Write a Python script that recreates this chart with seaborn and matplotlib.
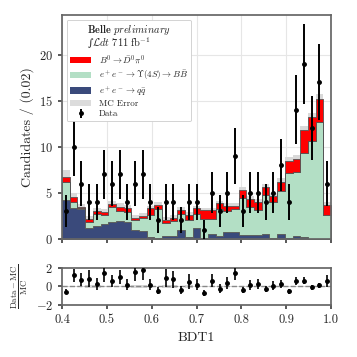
import numpy as np
import pandas as pd
import matplotlib
matplotlib.use("Agg")
import matplotlib.pyplot as plt
import seaborn as sns
from matplotlib.patches import Patch

# BDT1 binning: 35 bins between 0.4 and 1.0
x_lo, x_hi, n_bins = 0.4, 1.0, 35

data = [3, 10, 6, 4, 4, 7, 6, 7, 4, 6, 7, 4, 2, 4, 4, 2, 4, 4, 1, 5,
        3, 5, 9, 3, 5, 5, 4, 5, 8, 4, 14, 19, 12, 17, 6]
sig = [0.55, 0.55, 0.1, 0.35, 0.4, 0.35, 0.3, 0.5, 0.35, 0.25, 0.25, 0.7,
       0.5, 0.3, 0.35, 0.45, 0.6, 0.6, 1.0, 0.95, 0.6, 0.55, 0.4, 0.9, 0.85,
       0.9, 0.8, 0.6, 1.05, 1.35, 1.35, 2.5, 2.6, 2.5, 1.1]
bb = [1.95, 0.6, 0.15, 0.65, 1.3, 0.95, 1.7, 1.05, 1.15, 1.05, 1.45, 2.45,
      3.1, 1.45, 1.6, 1.7, 1.8, 1.5, 2.0, 1.65, 2.95, 2.35, 2.5, 3.95, 3.0,
      2.7, 4.25, 3.95, 4.65, 7.1, 6.95, 9.1, 10.6, 12.7, 2.6]
qq = [4.25, 3.4, 3.2, 1.15, 1.35, 1.6, 1.8, 1.95, 1.8, 1.0, 0.8, 0.15, 0.1,
      0.3, 0.3, 1.0, 0.2, 1.2, 0.1, 0.5, 0.3, 0.7, 0.7, 0.45, 0.45, 0.45,
      0.55, 0.1, 0.5, 0.05, 0.35, 0.2, 0.0, 0.0, 0.0]
mc_err = [0.7, 0.4, 0.35, 0.3, 0.35, 0.3, 0.35, 0.35, 0.35, 0.3, 0.3, 0.3,
          0.35, 0.3, 0.3, 0.3, 0.3, 0.3, 0.3, 0.3, 0.3, 0.3, 0.3, 0.35, 0.3,
          0.3, 0.35, 0.3, 0.35, 0.4, 0.4, 0.45, 0.5, 0.5, 0.3]

labels = [r"$B^0 \to \bar{D}^0\pi^0$",
          r"$e^+e^- \to \Upsilon(4S) \to B\bar{B}$",
          r"$e^+e^- \to q\bar{q}$"]
colors = ["#ff0000", "#b3dfc5", "#3a4a7b"]

sns.set_theme(style="ticks")
plt.rcParams["font.family"] = ["cmr10", "DejaVu Serif"]
plt.rcParams["mathtext.fontset"] = "cm"
plt.rcParams["axes.formatter.use_mathtext"] = True
plt.rcParams["axes.unicode_minus"] = True

edges = np.linspace(x_lo, x_hi, n_bins + 1)
centers = 0.5 * (edges[:-1] + edges[1:])
width = edges[1] - edges[0]

df = pd.concat([
    pd.DataFrame({"bdt": centers, "w": vals, "comp": lab})
    for lab, vals in zip(labels, [sig, bb, qq])
], ignore_index=True)

data = np.array(data, dtype=float)
total = np.array(sig) + np.array(bb) + np.array(qq)
mc_err = np.array(mc_err)

fig = plt.figure(figsize=(3.57, 3.57), dpi=100)
ax = fig.add_axes([0.174, 0.331, 0.753, 0.627])
rax = fig.add_axes([0.174, 0.146, 0.753, 0.103])

# MC uncertainty drawn behind the stack, so only the upper half shows
ax.bar(centers, 2 * mc_err, bottom=total - mc_err, width=width,
       color="#d9d9d9", linewidth=0, zorder=1)
sns.histplot(data=df, x="bdt", weights="w", hue="comp", hue_order=labels,
             palette=colors, bins=n_bins, binrange=(x_lo, x_hi),
             multiple="stack", element="step",
             alpha=1, edgecolor="#555555", linewidth=0.6, legend=False,
             zorder=2, ax=ax)
dat = ax.errorbar(centers, data, yerr=np.sqrt(data), fmt="o", color="black",
                  ms=2.5, elinewidth=1.4, capsize=0, zorder=5)

ax.set_xlim(x_lo, x_hi)
ax.set_ylim(0, 24.3)
ax.set_yticks([0, 5, 10, 15, 20])
ax.set_xticks(np.arange(0.4, 1.01, 0.1))
ax.tick_params(labelbottom=False, labelsize=9, length=3, color="#444444")
ax.grid(True, color="#e6e6e6", linewidth=0.8, zorder=0)
ax.set_axisbelow(True)
ax.set_xlabel("")
ax.set_ylabel("Candidates / (0.02)", fontsize=10)
for s in ax.spines.values():
    s.set_color("#666666")

handles = [Patch(facecolor=c, edgecolor="none") for c in colors]
handles.append(Patch(facecolor="#dcdcdc", edgecolor="none"))
handles.append(dat)
leg = ax.legend(handles, labels + ["MC Error", "Data"], loc="upper left",
                fontsize=6.5, frameon=True, framealpha=1, edgecolor="#cccccc",
                title=r"$\mathbf{Belle}$ $\mathit{preliminary}$" + "\n"
                      + r"∫$\mathcal{L}dt\ 711\ \mathrm{fb}^{-1}$",
                title_fontsize=7.5, handlelength=2.4, handleheight=0.7,
                labelspacing=0.22, borderpad=0.35, fancybox=True,
                bbox_to_anchor=(0.0, 1.0))
leg.get_title().set_family(["DejaVu Serif"])
leg.get_title().set_linespacing(0.95)
leg.get_frame().set_linewidth(0.6)

ratio = (data - total) / total
ratio_err = np.sqrt(data) / total
band = mc_err / total
rax.fill_between(edges, np.append(-band, -band[-1]), np.append(band, band[-1]),
                 step="post", color="#d9d9d9", linewidth=0)
rax.axhline(0, color="#888888", ls="--", lw=1.0)
rax.errorbar(centers, ratio, yerr=ratio_err, fmt="o", color="black",
             ms=2.5, elinewidth=1.2, capsize=0, zorder=5)
rax.set_xlim(x_lo, x_hi)
rax.set_ylim(-2, 2)
rax.set_yticks([-2, 0, 2])
rax.set_xticks(np.arange(0.4, 1.01, 0.1))
rax.set_xticklabels(["0.4", "0.5", "0.6", "0.7", "0.8", "0.9", "1.0"])
rax.tick_params(labelsize=9, length=3, color="#444444")
rax.set_xlabel("BDT1", fontsize=10)
rax.set_ylabel(r"$\frac{\mathrm{Data}-\mathrm{MC}}{\mathrm{MC}}$", fontsize=9)
for s in rax.spines.values():
    s.set_color("#666666")

fig.savefig("out.png", dpi=100)
